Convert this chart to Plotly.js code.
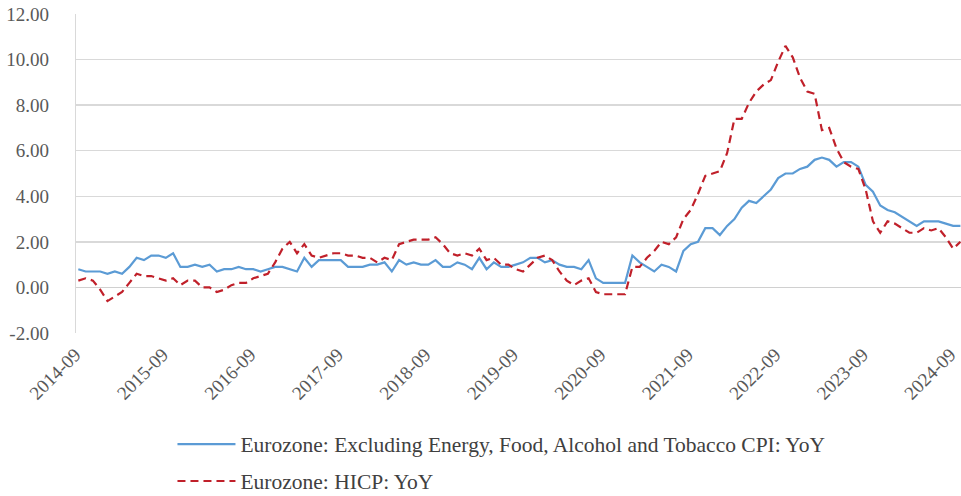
<!DOCTYPE html>
<html>
<head>
<meta charset="utf-8">
<script src="https://cdn.plot.ly/plotly-3.0.1.min.js"></script>
<style>
  html, body { margin: 0; padding: 0; background: #ffffff; }
  #chart { width: 961px; height: 496px; }
</style>
</head>
<body>
<div id="chart"></div>
<script>
// Monthly periods, 2014-09 .. 2024-10
const startYear = 2014, startMonth = 9, monthCount = 122;
const months = [];
for (let k = 0; k < monthCount; k++) {
  const m = startMonth - 1 + k;
  const y = startYear + Math.floor(m / 12);
  const mm = (m % 12) + 1;
  months.push(y + '-' + (mm < 10 ? '0' + mm : mm));
}

// Year-on-year rates, %
const coreCPI = [
  0.8, 0.7, 0.7, 0.7, 0.6, 0.7, 0.6, 0.9, 1.3, 1.2, 1.4, 1.4,
  1.3, 1.5, 0.9, 0.9, 1.0, 0.9, 1.0, 0.7, 0.8, 0.8, 0.9, 0.8,
  0.8, 0.7, 0.8, 0.9, 0.9, 0.8, 0.7, 1.3, 0.9, 1.2, 1.2, 1.2,
  1.2, 0.9, 0.9, 0.9, 1.0, 1.0, 1.1, 0.7, 1.2, 1.0, 1.1, 1.0,
  1.0, 1.2, 0.9, 0.9, 1.1, 1.0, 0.8, 1.3, 0.8, 1.1, 0.9, 0.9,
  1.0, 1.1, 1.3, 1.3, 1.1, 1.2, 1.0, 0.9, 0.9, 0.8, 1.2, 0.4,
  0.2, 0.2, 0.2, 0.2, 1.4, 1.1, 0.9, 0.7, 1.0, 0.9, 0.7, 1.6,
  1.9, 2.0, 2.6, 2.6, 2.3, 2.7, 3.0, 3.5, 3.8, 3.7, 4.0, 4.3,
  4.8, 5.0, 5.0, 5.2, 5.3, 5.6, 5.7, 5.6, 5.3, 5.5, 5.5, 5.3,
  4.5, 4.2, 3.6, 3.4, 3.3, 3.1, 2.9, 2.7, 2.9, 2.9, 2.9, 2.8,
  2.7, 2.7
];
const hicp = [
  0.3, 0.4, 0.3, -0.1, -0.6, -0.4, -0.2, 0.2, 0.6, 0.5, 0.5, 0.4,
  0.3, 0.4, 0.1, 0.3, 0.3, 0.0, 0.0, -0.2, -0.1, 0.1, 0.2, 0.2,
  0.4, 0.5, 0.6, 1.1, 1.7, 2.0, 1.5, 1.9, 1.4, 1.3, 1.4, 1.5,
  1.5, 1.4, 1.4, 1.3, 1.3, 1.1, 1.3, 1.2, 1.9, 2.0, 2.1, 2.1,
  2.1, 2.2, 1.9, 1.5, 1.4, 1.5, 1.4, 1.7, 1.2, 1.3, 1.0, 1.0,
  0.8, 0.7, 1.0, 1.3, 1.4, 1.2, 0.7, 0.3, 0.1, 0.3, 0.4, -0.2,
  -0.3, -0.3, -0.3, -0.3, 0.9, 0.9, 1.3, 1.6, 2.0, 1.9, 2.2, 3.0,
  3.4, 4.1, 4.9, 5.0, 5.1, 5.9, 7.4, 7.4, 8.1, 8.6, 8.9, 9.1,
  9.9, 10.6, 10.1, 9.2, 8.6, 8.5, 6.9, 7.0, 6.1, 5.5, 5.3, 5.2,
  4.3, 2.9, 2.4, 2.9, 2.8, 2.6, 2.4, 2.4, 2.6, 2.5, 2.6, 2.2,
  1.7, 2.0
];

const seriesNames = [
  'Eurozone: Excluding Energy, Food, Alcohol and Tobacco CPI: YoY',
  'Eurozone: HICP: YoY'
];

// One labelled tick per year, every September
const yearTicks = months.filter(m => m.endsWith('-09'));
const yTicks = [-2, 0, 2, 4, 6, 8, 10, 12];
const yTickText = yTicks.map(v => v.toFixed(2));

const serif = 'Liberation Serif';

const traces = [
  {
    x: months, y: coreCPI, name: seriesNames[0], type: 'scatter', mode: 'lines',
    line: { color: '#5b9bd5', width: 2.2 }, legendgroup: 'a'
  },
  {
    x: months, y: hicp, name: seriesNames[1], type: 'scatter', mode: 'lines',
    line: { color: '#c0202a', width: 2.2, dash: '8px,5px' }, legendgroup: 'b'
  }
];

const layout = {
  width: 961, height: 496,
  margin: { l: 76, r: 0, t: 14, b: 163 },
  paper_bgcolor: '#ffffff', plot_bgcolor: '#ffffff',
  font: { family: serif, color: '#595959', size: 19 },
  showlegend: true,
  legend: {
    orientation: 'v',
    xref: 'paper', x: 0.109, xanchor: 'left',
    yref: 'container', y: 0.146, yanchor: 'top',
    font: { family: serif, size: 21.5, color: '#404040' },
    itemwidth: 58, tracegroupgap: 6, traceorder: 'grouped',
    bgcolor: 'rgba(0,0,0,0)'
  },
  xaxis: {
    type: 'category', range: [-0.32, 121.08],
    tickmode: 'array', tickvals: yearTicks, ticktext: yearTicks,
    tickangle: -45, ticks: 'outside', ticklen: 2, tickcolor: 'rgba(0,0,0,0)',
    ticklabelshift: -3,
    tickfont: { family: serif, size: 19, color: '#595959' },
    showgrid: false, zeroline: false, showline: false
  },
  yaxis: {
    range: [-2, 12], tickmode: 'array', tickvals: yTicks, ticktext: yTickText,
    ticks: 'outside', ticklen: 22, tickcolor: 'rgba(0,0,0,0)',
    tickfont: { family: serif, size: 19, color: '#595959' },
    showgrid: true, gridcolor: '#d9d9d9', gridwidth: 1.3,
    zeroline: true, zerolinecolor: '#d0d0d0', zerolinewidth: 1.5,
    showline: true, linecolor: '#d9d9d9', linewidth: 1.3
  }
};

Plotly.newPlot('chart', traces, layout, { displayModeBar: false, staticPlot: true });
</script>
</body>
</html>
